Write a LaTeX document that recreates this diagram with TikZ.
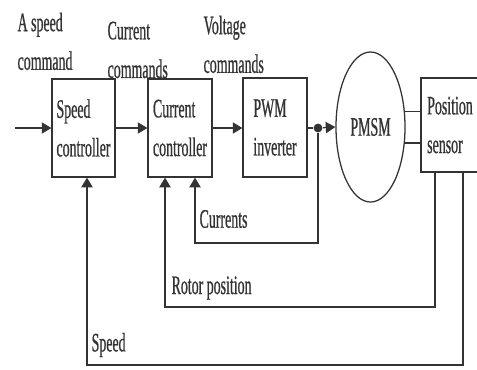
\documentclass[tikz,border=0pt]{standalone}
\usepackage{fontspec}
\setmainfont{Liberation Serif}[FakeStretch=0.52, FakeBold=0.6]
\usepackage{tikz}
\usetikzlibrary{arrows.meta, shapes.geometric}

\tikzset{
  ctrlbox/.style={draw, rectangle, minimum width=1.6cm, minimum height=2.45cm, align=left, inner sep=0pt},
  lbl/.style={align=left, inner sep=0pt},
  fb/.style={->, rounded corners=0pt},
}

\begin{document}
\begin{tikzpicture}[x=0.025cm, y=-0.025cm, line width=0.9pt, color=black!80,
  >={Triangle[length=2.4mm, width=2.8mm]}, font=\fontsize{19}{27.5}\selectfont]
\clip (0,0) rectangle (477,369);
\fill[white] (0,0) rectangle (477,369);

\node[ctrlbox, minimum width=1.575cm] (speed) at (83.5,128) {Speed\\controller};
\node[ctrlbox] (current) at (180,128) {Current\\controller};
\node[ctrlbox, minimum height=2.475cm] (pwm) at (275,127.5) {PWM\\inverter};
\node[draw, ellipse, minimum width=1.725cm, minimum height=3.75cm, inner sep=0pt] (pmsm) at (370.5,127) {PMSM};
\node[ctrlbox, minimum width=1.45cm, minimum height=2.35cm] (sensor) at (450,125) {Position\\sensor};
\node[circle, fill, inner sep=0pt, minimum size=2.2mm] (dot) at (318,128) {};

\node[lbl, anchor=north west] (cmdspeed) at (17,12) {A speed\\command};
\node[lbl, anchor=north west] (cmdcurrent) at (107,21) {Current\\commands};
\node[lbl, anchor=north west] (cmdvoltage) at (203,15) {Voltage\\commands};

\coordinate (in) at (15,128);
\coordinate (iturn) at (195,243);
\coordinate (pcorner) at (435,307);
\coordinate (pturn) at (165,307);
\coordinate (scorner) at (463,365);
\coordinate (sturn) at (87,365);

\draw[->] (in) -- (speed.west);
\draw[->] (speed.east) -- (current.west);
\draw[->] (current.east) -- (current.east -| pwm.west);
\draw (pwm.east |- dot) -- (dot);
\draw[->] (dot) -- (pmsm.west);
\draw (pmsm.24) -- (pmsm.24 -| sensor.west);
\draw (pmsm.-25) -- (pmsm.-25 -| sensor.west);

\draw[fb] (dot) |- (iturn) -- (iturn |- current.south);
\draw[fb] (pcorner |- sensor.south) -- (pcorner) -- (pturn) -- (pturn |- current.south);
\draw[fb] (scorner |- sensor.south) -- (scorner) -- (sturn) -- (sturn |- speed.south);

\node[lbl, anchor=west] (lcurrents) at (199,219) {Currents};
\node[lbl, anchor=west] (lrotor) at (171,288) {Rotor position};
\node[lbl, anchor=west] (lspeed) at (91,345) {Speed};
\end{tikzpicture}
\end{document}
